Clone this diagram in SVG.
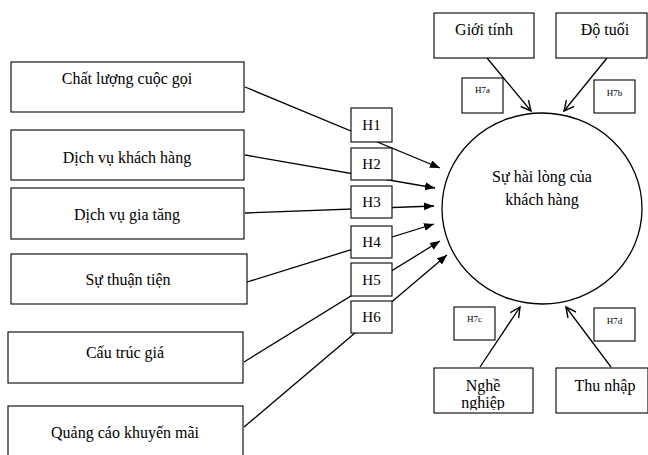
<svg xmlns="http://www.w3.org/2000/svg" width="648" height="455" viewBox="0 0 648 455">
<style>
.box{fill:#fff;stroke:#000;stroke-width:1.1}
text{font-family:'Liberation Serif','Times New Roman','DejaVu Serif',serif;fill:#000;text-anchor:middle}
.t{font-size:16px}
.h{font-size:15px}
.s{font-size:9px}
.ln{stroke:#000;stroke-width:1.3;fill:none}
</style>
<defs>
<marker id="fa" markerUnits="userSpaceOnUse" markerWidth="12" markerHeight="10" refX="10" refY="4" orient="auto">
<path d="M0,0 L10,4 L0,8 z" fill="#000"/>
</marker>
<marker id="oa" markerUnits="userSpaceOnUse" markerWidth="14" markerHeight="14" refX="11" refY="6" orient="auto">
<path d="M1,1 L11,6 L1,11" fill="none" stroke="#000" stroke-width="1.4"/>
</marker>
<clipPath id="nclip"><rect x="434" y="368" width="99" height="42"/></clipPath>
</defs>
<g id="connectors">
<line class="ln" x1="245" y1="87" x2="440" y2="168" marker-end="url(#fa)"/>
<line class="ln" x1="245" y1="155" x2="435" y2="188" marker-end="url(#fa)"/>
<line class="ln" x1="245" y1="213" x2="434" y2="206" marker-end="url(#fa)"/>
<line class="ln" x1="247" y1="282" x2="434" y2="224" marker-end="url(#fa)"/>
<line class="ln" x1="244" y1="362" x2="440" y2="241" marker-end="url(#fa)"/>
<line class="ln" x1="244" y1="427" x2="447" y2="255" marker-end="url(#fa)"/>
<line class="ln" x1="487" y1="58" x2="531" y2="111" marker-end="url(#oa)"/>
<line class="ln" x1="607" y1="58" x2="564" y2="111" marker-end="url(#oa)"/>
<line class="ln" x1="480" y1="367" x2="520" y2="307" marker-end="url(#oa)"/>
<line class="ln" x1="611" y1="367" x2="566" y2="307" marker-end="url(#oa)"/>
</g>
<g id="n1"><rect class="box" x="11" y="62" width="233" height="50"/><text class="t" x="127" y="84">Chất lượng cuộc gọi</text></g>
<g id="n2"><rect class="box" x="11" y="130" width="233" height="50"/><text class="t" x="127" y="163">Dịch vụ khách hàng</text></g>
<g id="n3"><rect class="box" x="11" y="188" width="233" height="51"/><text class="t" x="127" y="220">Dịch vụ gia tăng</text></g>
<g id="n4"><rect class="box" x="11" y="254" width="236" height="50"/><text class="t" x="128" y="285">Sự thuận tiện</text></g>
<g id="n5"><rect class="box" x="8" y="332" width="235" height="51"/><text class="t" x="125" y="358">Cấu trúc giá</text></g>
<g id="n6"><rect class="box" x="8" y="406" width="235" height="55"/><text class="t" x="125" y="438">Quảng cáo khuyến mãi</text></g>
<g id="h1"><rect class="box" x="351" y="108" width="41" height="34"/><text class="h" x="371.5" y="130">H1</text></g>
<g id="h2"><rect class="box" x="351" y="148" width="41" height="32"/><text class="h" x="371.5" y="169">H2</text></g>
<g id="h3"><rect class="box" x="351" y="186" width="41" height="32"/><text class="h" x="371.5" y="207">H3</text></g>
<g id="h4"><rect class="box" x="351" y="226" width="41" height="32"/><text class="h" x="371.5" y="247">H4</text></g>
<g id="h5"><rect class="box" x="351" y="263" width="41" height="33"/><text class="h" x="371.5" y="285">H5</text></g>
<g id="h6"><rect class="box" x="351" y="301" width="41" height="32"/><text class="h" x="371.5" y="322">H6</text></g>
<g id="center"><ellipse cx="542" cy="208.5" rx="100" ry="95.5" fill="#fff" stroke="#000" stroke-width="1.3"/><text class="t" x="542" y="182">Sự hài lòng của</text><text class="t" x="542" y="205">khách hàng</text></g>
<g id="gioitinh"><rect class="box" x="434" y="13" width="100" height="45"/><text class="t" x="484" y="35">Giới tính</text></g>
<g id="dotuoi"><rect class="box" x="556" y="13" width="91" height="45"/><text class="t" x="605" y="35">Độ tuổi</text></g>
<g id="h7a"><rect class="box" x="462" y="78" width="41" height="35"/><text class="s" x="482.5" y="93">H7a</text></g>
<g id="h7b"><rect class="box" x="594" y="80" width="41" height="33"/><text class="s" x="614.5" y="96">H7b</text></g>
<g id="h7c"><rect class="box" x="454" y="307" width="41" height="33"/><text class="s" x="474.5" y="322">H7c</text></g>
<g id="h7d"><rect class="box" x="594" y="308" width="41" height="33"/><text class="s" x="614.5" y="324">H7d</text></g>
<g id="nghenghiep"><rect class="box" x="434" y="368" width="99" height="45"/><g clip-path="url(#nclip)"><text class="t" x="483" y="391">Nghề</text><text class="t" x="483" y="408">nghiệp</text></g></g>
<g id="thunhap"><rect class="box" x="556" y="368" width="92" height="45"/><text class="t" x="605" y="391">Thu nhập</text></g>
</svg>
